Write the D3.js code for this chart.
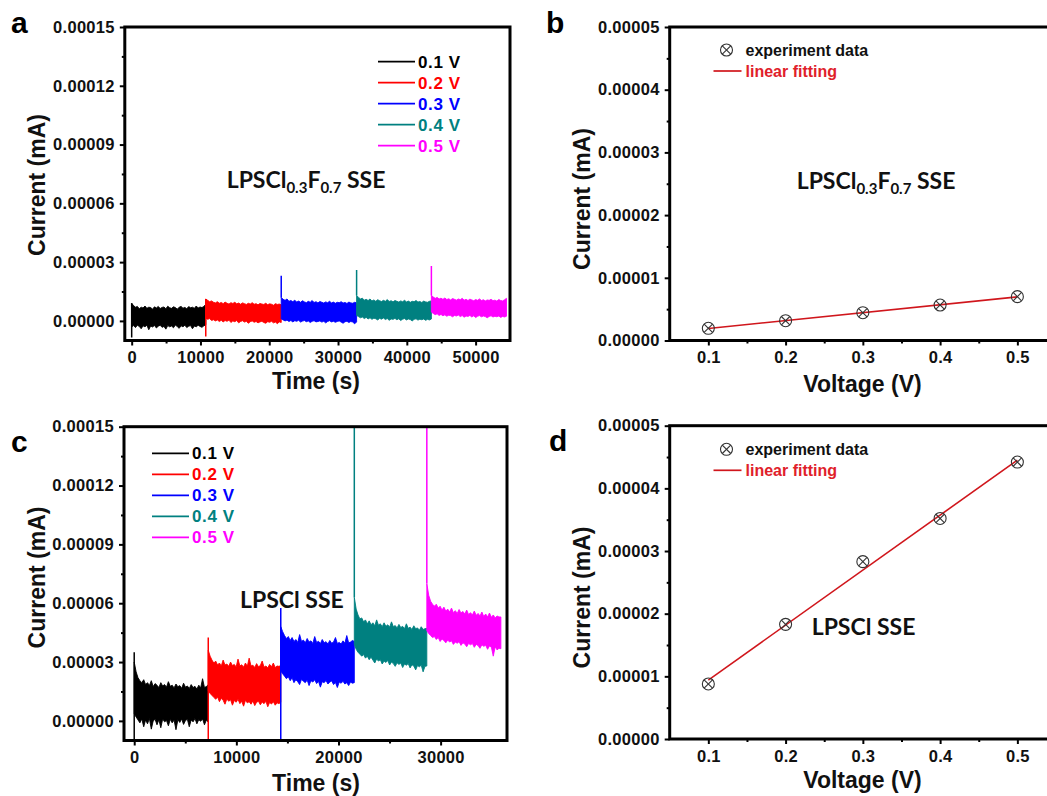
<!DOCTYPE html>
<html><head><meta charset="utf-8">
<script src="https://cdn.jsdelivr.net/npm/d3@7"></script>
<style>
body{margin:0;background:#fff;}
svg{display:block;}
.tick text{font-family:"Liberation Sans",Arial,sans-serif;font-weight:bold;font-size:16.5px;letter-spacing:0.3px;fill:#111;}
.tick line{stroke:#000;stroke-width:2px;}
.lbl{font-family:"Liberation Sans",Arial,sans-serif;font-weight:bold;}
.ann{font-family:Lato,"Open Sans",sans-serif;font-weight:700;white-space:pre;}
</style></head><body>
<svg id="chart" width="1047" height="796"></svg>
<script>
// ---------------- DATA ----------------
const voltages = ["0.1 V", "0.2 V", "0.3 V", "0.4 V", "0.5 V"];
const UNIT = 1e-5; // trace/point arrays below are in units of 1e-5 mA

// Panel a: LPSCl0.3F0.7 SSE, chronoamperometry (step start times, s)
const aStepTimes = [0, 10770, 21740, 32700, 43570, 54490];
const aSpikes = [[-0.85], [-0.8], [2.3], [2.6], [2.8]];
const aHi1 = [0.90,0.78,0.70,0.74,0.62,0.70,0.66,0.76,0.64,0.70,0.68,0.60,0.72,0.66,0.74,0.63,0.69,0.71,0.62,0.75,0.67,0.64,0.72,0.68,0.60,0.70,0.74,0.65,0.69,0.62,0.73,0.67,0.70,0.64,0.76,0.66,0.71,0.68,0.74,0.85];
const aLo1 = [-0.30,-0.24,-0.34,-0.22,-0.28,-0.40,-0.25,-0.30,-0.22,-0.45,-0.26,-0.31,-0.23,-0.36,-0.27,-0.22,-0.33,-0.28,-0.42,-0.24,-0.30,-0.26,-0.35,-0.21,-0.29,-0.38,-0.25,-0.30,-0.22,-0.34,-0.27,-0.24,-0.40,-0.26,-0.30,-0.22,-0.28,-0.33,-0.25,-0.20];
const aHi2 = [1.12,1.05,0.98,1.02,0.95,0.92,0.98,0.90,0.94,0.88,0.96,0.90,0.86,0.93,0.89,0.95,0.87,0.91,0.85,0.92,0.88,0.84,0.90,0.86,0.93,0.85,0.88,0.82,0.89,0.86,0.84,0.90,0.83,0.87,0.85,0.80,0.88,0.84,0.86,0.82];
const aLo2 = [0.15,0.08,0.12,0.02,0.06,0.00,0.05,-0.03,0.03,-0.05,0.02,-0.02,0.04,-0.08,0.00,-0.04,0.02,-0.10,-0.03,0.01,-0.06,-0.02,-0.12,-0.04,0.00,-0.07,-0.03,-0.10,-0.05,-0.02,-0.08,-0.12,-0.04,-0.07,-0.02,-0.10,-0.06,-0.14,-0.05,-0.08];
const aHi3 = [1.20,1.10,1.05,1.12,1.00,1.04,0.98,1.06,0.96,1.01,0.95,1.03,0.97,0.93,1.00,0.95,1.04,0.94,0.98,0.92,0.99,0.95,0.91,0.97,0.93,1.00,0.92,0.96,0.90,0.95,0.93,0.98,0.91,0.94,0.89,0.96,0.92,0.90,0.95,0.92];
const aLo3 = [0.10,0.05,0.00,0.04,-0.03,0.02,-0.05,0.01,-0.02,0.03,-0.06,-0.01,0.02,-0.04,0.00,-0.08,-0.02,0.01,-0.05,-0.03,0.00,-0.06,-0.02,-0.10,-0.03,0.01,-0.05,-0.02,-0.07,-0.03,0.00,-0.06,-0.12,-0.04,-0.02,-0.08,-0.03,-0.06,-0.15,-0.05];
const aHi4 = [1.30,1.20,1.12,1.16,1.06,1.10,1.04,1.12,1.02,1.07,1.00,1.08,1.03,0.99,1.05,1.00,1.09,0.99,1.03,0.97,1.04,1.00,0.96,1.02,0.98,1.05,0.97,1.01,0.95,1.00,0.98,1.04,0.96,0.99,0.94,1.01,0.97,0.95,1.00,1.02];
const aLo4 = [0.28,0.22,0.16,0.20,0.12,0.18,0.10,0.16,0.08,0.14,0.11,0.05,0.13,0.09,0.15,0.07,0.12,0.03,0.10,0.08,0.13,0.06,0.11,0.02,0.09,0.12,0.05,0.10,0.07,0.00,0.08,0.11,0.04,0.09,0.06,0.10,0.03,0.08,0.05,0.10];
const aHi5 = [1.30,1.22,1.15,1.20,1.12,1.16,1.10,1.17,1.09,1.13,1.07,1.14,1.10,1.06,1.12,1.08,1.15,1.06,1.10,1.04,1.11,1.07,1.03,1.09,1.05,1.12,1.04,1.08,1.02,1.07,1.05,1.10,1.03,1.06,1.01,1.09,1.04,1.02,1.08,1.15];
const aLo5 = [0.45,0.38,0.32,0.36,0.28,0.33,0.26,0.31,0.24,0.29,0.27,0.21,0.28,0.25,0.30,0.22,0.27,0.19,0.25,0.23,0.28,0.20,0.26,0.17,0.24,0.27,0.21,0.25,0.22,0.16,0.23,0.26,0.20,0.24,0.21,0.25,0.18,0.23,0.20,0.24];

// Panel c: LPSCl SSE
const cStepTimes = [0, 7250, 14350, 21550, 28650, 35900];
const cSpikes = [[-2, 3.5], [-2, 4.25], [-2, 5.75], [16], [16]];
const cHi1 = [3.0,2.5,2.2,2.05,1.95,2.1,1.85,1.95,1.80,2.05,1.75,1.90,1.82,1.70,1.95,1.78,1.85,1.72,2.00,1.76,1.82,1.68,1.88,1.74,1.80,1.66,1.92,1.72,1.78,1.65,1.85,1.70,1.76,1.62,1.82,1.68,2.15,1.70,1.75,1.85];
const cLo1 = [0.35,0.20,0.05,-0.10,0.10,-0.30,0.05,-0.15,0.12,-0.42,0.00,0.08,-0.20,0.06,-0.35,0.10,-0.05,0.02,-0.25,0.08,-0.10,0.04,-0.45,0.06,-0.08,0.10,-0.18,0.02,0.08,-0.30,0.05,-0.05,0.12,-0.15,0.06,-0.02,0.10,-0.20,0.04,-0.06];
const cHi2 = [3.6,3.3,3.1,2.95,3.05,2.85,2.95,2.80,3.10,2.85,2.90,2.78,3.00,2.82,2.88,2.75,3.15,2.80,2.86,2.74,2.95,2.78,3.20,2.80,2.84,2.72,2.92,2.76,2.82,3.05,2.74,2.80,2.70,2.88,2.76,2.95,2.72,2.80,2.78,2.82];
const cLo2 = [1.55,1.40,1.30,1.20,1.10,1.22,0.98,1.15,1.05,0.85,1.12,1.00,1.08,0.80,1.04,0.95,1.10,0.88,1.00,0.75,1.05,0.92,0.98,0.85,1.02,0.78,0.95,1.00,0.82,0.96,0.88,1.00,0.72,0.94,0.86,0.98,0.80,0.92,0.88,0.95];
const cHi3 = [4.8,4.55,4.35,4.20,4.30,4.10,4.25,4.05,4.15,4.00,4.40,4.05,4.12,3.98,4.20,4.02,4.08,3.95,4.30,4.00,4.06,3.94,4.15,3.98,4.04,3.92,4.10,3.96,4.02,4.25,3.95,4.00,3.92,4.08,3.96,4.35,3.98,4.02,4.10,4.05];
const cLo3 = [2.55,2.40,2.28,2.15,2.25,2.05,2.20,1.95,2.10,2.00,1.85,2.12,2.02,1.95,2.08,1.80,2.05,1.98,2.10,1.90,2.02,1.72,2.00,1.95,2.06,1.88,1.98,2.04,1.85,1.96,1.70,1.98,1.92,2.02,1.88,1.95,1.80,1.98,1.92,1.95];
const cHi4 = [6.3,5.7,5.4,5.2,5.25,5.05,5.15,4.95,5.10,4.90,5.00,4.85,5.15,4.88,4.95,4.80,5.00,4.82,4.90,4.78,5.05,4.80,4.86,4.74,4.92,4.76,4.82,4.70,4.95,4.72,4.78,4.66,4.85,4.70,4.74,4.62,4.80,4.66,4.70,4.72];
const cLo4 = [3.9,3.65,3.50,3.40,3.30,3.38,3.20,3.30,3.12,3.25,3.10,2.95,3.15,3.05,3.12,2.90,3.05,2.98,3.08,2.85,3.00,2.92,2.78,2.96,2.88,2.95,2.72,2.90,2.84,2.92,2.70,2.86,2.80,2.60,2.82,2.76,2.84,2.50,2.78,2.80];
const cHi5 = [7.0,6.4,6.1,5.95,5.85,5.95,5.75,5.85,5.65,5.80,5.60,5.70,5.55,5.75,5.52,5.62,5.48,5.68,5.50,5.58,5.45,5.65,5.42,5.52,5.40,5.60,5.38,5.48,5.35,5.55,5.32,5.45,5.30,5.50,5.28,5.40,5.25,5.35,5.30,5.30];
const cLo5 = [4.6,4.45,4.35,4.25,4.30,4.15,4.25,4.05,4.18,4.10,3.98,4.12,4.02,4.08,3.90,4.02,3.96,4.04,3.85,3.98,3.92,3.78,3.95,3.88,3.94,3.75,3.90,3.84,3.70,3.88,3.80,3.86,3.65,3.82,3.76,3.30,3.78,3.62,3.70,3.68];

// Panels b, d: steady current vs voltage (units 1e-5 mA)
const fitVoltages = [0.1, 0.2, 0.3, 0.4, 0.5];
const bCurrent = [0.195, 0.316, 0.443, 0.566, 0.699];
const dCurrent = [0.878, 1.83, 2.83, 3.52, 4.42];

// Tick labels
const timeYTicks = [0, 0.00003, 0.00006, 0.00009, 0.00012, 0.00015];
const aXTicks = [0, 10000, 20000, 30000, 40000, 50000];
const cXTicks = [0, 10000, 20000, 30000];
const ivXTicks = [0.1, 0.2, 0.3, 0.4, 0.5];
const ivYTicks = [0, 0.00001, 0.00002, 0.00003, 0.00004, 0.00005];

// ---------------- STYLE ----------------
const seriesColors = ["#000000", "#ff0000", "#0000ff", "#008080", "#ff00ff"];
const fitColor = "#d0161c";

const svg = d3.select("#chart");
svg.append("rect").attr("width", 1047).attr("height", 796).attr("fill", "#fff");

function makePanel(id, P, xDom, yDom) {
  const x = d3.scaleLinear().domain(xDom).range([P.left, P.right]);
  const y = d3.scaleLinear().domain(yDom).range([P.bottom, P.top]);
  svg.append("clipPath").attr("id", "clip-" + id).append("rect")
    .attr("x", P.left).attr("y", P.top).attr("width", P.right - P.left).attr("height", P.bottom - P.top);
  const g = svg.append("g");
  const plot = g.append("g").attr("clip-path", `url(#clip-${id})`);
  return {x, y, g, plot, P};
}
function mids(arr) { const m = []; for (let i = 0; i < arr.length - 1; i++) m.push((arr[i] + arr[i+1]) / 2); return m; }

function drawAxes(p, xMaj, xFmt, yMaj, yFmt) {
  const P = p.P;
  const xa = p.g.append("g").attr("transform", `translate(0,${P.bottom})`)
    .call(d3.axisBottom(p.x).tickValues(xMaj).tickSize(5).tickSizeOuter(0).tickPadding(6).tickFormat(xFmt));
  xa.select(".domain").remove();
  const xm = p.g.append("g").attr("transform", `translate(0,${P.bottom})`)
    .call(d3.axisBottom(p.x).tickValues(mids(xMaj)).tickSize(3).tickSizeOuter(0).tickFormat(""));
  xm.select(".domain").remove();
  const ya = p.g.append("g").attr("transform", `translate(${P.left},0)`)
    .call(d3.axisLeft(p.y).tickValues(yMaj).tickSize(5).tickSizeOuter(0).tickPadding(5).tickFormat(yFmt));
  ya.select(".domain").remove();
  const ym = p.g.append("g").attr("transform", `translate(${P.left},0)`)
    .call(d3.axisLeft(p.y).tickValues(mids(yMaj)).tickSize(3).tickSizeOuter(0).tickFormat(""));
  ym.select(".domain").remove();
  p.g.append("rect").attr("x", P.left).attr("y", P.top).attr("width", P.right - P.left).attr("height", P.bottom - P.top)
    .attr("fill", "none").attr("stroke", "#000").attr("stroke-width", 3);
}

function drawTraces(p, stepTimes, spikes, his, los) {
  his.forEach((hi, i) => {
    const t0 = stepTimes[i], t1 = stepTimes[i+1];
    const pts = hi.map((h, j) => ({t: t0 + (t1 - t0) * j / (hi.length - 1), hi: h * UNIT, lo: los[i][j] * UNIT}));
    const area = d3.area().x(d => p.x(d.t)).y0(d => p.y(d.lo)).y1(d => p.y(d.hi));
    p.plot.append("path").attr("d", area(pts)).attr("fill", seriesColors[i])
      .attr("stroke", seriesColors[i]).attr("stroke-width", 0.9).attr("stroke-linejoin", "miter");
    const sp = spikes[i].map(v => [t0, v * UNIT]).concat([[t0, hi[0] * UNIT]]);
    p.plot.append("path").attr("d", d3.line().x(d => p.x(d[0])).y(d => p.y(d[1]))(sp))
      .attr("fill", "none").attr("stroke", seriesColors[i]).attr("stroke-width", 1.5);
  });
}

function vLegend(x0, y0) {
  voltages.forEach((v, i) => {
    const yy = y0 + i * 21;
    svg.append("line").attr("x1", x0).attr("x2", x0 + 37).attr("y1", yy).attr("y2", yy)
      .attr("stroke", seriesColors[i]).attr("stroke-width", 1.7);
    svg.append("text").attr("class", "lbl").attr("x", x0 + 40).attr("y", yy + 6)
      .attr("font-size", 17).attr("letter-spacing", 0.6).attr("fill", seriesColors[i]).text(v);
  });
}

function marker(sel, cx, cy) {
  const r = 6, k = r * 0.7;
  const g = sel.append("g").attr("transform", `translate(${cx},${cy})`)
    .attr("stroke", "#333").attr("stroke-width", 1.1).attr("fill", "none");
  g.append("circle").attr("r", r);
  g.append("line").attr("x1", -k).attr("y1", -k).attr("x2", k).attr("y2", k);
  g.append("line").attr("x1", -k).attr("y1", k).attr("x2", k).attr("y2", -k);
}

function drawIV(p, currents) {
  const ys = currents.map(c => c * UNIT);
  const mx = d3.mean(fitVoltages), my = d3.mean(ys);
  const slope = d3.sum(fitVoltages.map((v, i) => (v - mx) * (ys[i] - my))) / d3.sum(fitVoltages.map(v => (v - mx) ** 2));
  const icpt = my - slope * mx;
  const ends = [fitVoltages[0], fitVoltages[fitVoltages.length - 1]];
  p.plot.append("path").attr("d", d3.line().x(d => p.x(d)).y(d => p.y(icpt + slope * d))(ends))
    .attr("fill", "none").attr("stroke", fitColor).attr("stroke-width", 1.6);
  fitVoltages.forEach((v, i) => marker(p.plot, p.x(v), p.y(ys[i])));
}

function ivLegend(x0, y0) {
  marker(svg, x0 + 13, y0);
  svg.append("text").attr("class", "lbl").attr("x", x0 + 32).attr("y", y0 + 5.5).attr("font-size", 16)
    .attr("fill", "#111").text("experiment data");
  svg.append("line").attr("x1", x0).attr("x2", x0 + 28).attr("y1", y0 + 21).attr("y2", y0 + 21)
    .attr("stroke", fitColor).attr("stroke-width", 1.7);
  svg.append("text").attr("class", "lbl").attr("x", x0 + 32).attr("y", y0 + 26.5).attr("font-size", 16)
    .attr("fill", "#e0202a").text("linear fitting");
}

function annotF(x, y) {
  const t = svg.append("text").attr("class", "ann").attr("x", x).attr("y", y).attr("font-size", 23).attr("fill", "#111");
  t.append("tspan").text("LPSCl");
  t.append("tspan").attr("font-size", 15).attr("dy", 5).text("0.3");
  t.append("tspan").attr("dy", -5).text("F");
  t.append("tspan").attr("font-size", 15).attr("dy", 5).text("0.7");
  t.append("tspan").attr("dy", -5).text(" SSE");
}
function annot(x, y) {
  svg.append("text").attr("class", "ann").attr("x", x).attr("y", y).attr("font-size", 23).attr("fill", "#111").text("LPSCl SSE");
}
function yTitle(x, y, txt) {
  svg.append("text").attr("class", "lbl").attr("font-size", 23).attr("text-anchor", "middle")
    .attr("transform", `translate(${x},${y}) rotate(-90)`).attr("fill", "#111").text(txt);
}
function xTitle(x, y, txt) {
  svg.append("text").attr("class", "lbl").attr("font-size", 23).attr("text-anchor", "middle")
    .attr("x", x).attr("y", y).attr("fill", "#111").text(txt);
}
function letter(x, y, txt) {
  svg.append("text").attr("class", "lbl").attr("font-size", 30).attr("x", x).attr("y", y).attr("fill", "#000").text(txt);
}

const fmtY = d3.format(".5f"), fmtT = d3.format("d"), fmtV = d3.format(".1f");

// Panel a
const pa = makePanel("a", {left: 124.8, right: 510, top: 27, bottom: 340.5}, [-1000, 55000], [-0.00001, 0.00015]);
drawTraces(pa, aStepTimes, aSpikes, [aHi1, aHi2, aHi3, aHi4, aHi5], [aLo1, aLo2, aLo3, aLo4, aLo5]);
drawAxes(pa, aXTicks, fmtT, timeYTicks, fmtY);
vLegend(378, 61.7);
annotF(226.7, 188);
yTitle(45, 185, "Current (mA)");
xTitle(316, 389, "Time (s)");
letter(11, 33, "a");

// Panel c
const pc = makePanel("c", {left: 124, right: 507, top: 426.7, bottom: 740.5}, [-1000, 36500], [-0.00001, 0.00015]);
drawTraces(pc, cStepTimes, cSpikes, [cHi1, cHi2, cHi3, cHi4, cHi5], [cLo1, cLo2, cLo3, cLo4, cLo5]);
drawAxes(pc, cXTicks, fmtT, timeYTicks, fmtY);
vLegend(152, 453.3);
annot(240, 608);
yTitle(45, 577.5, "Current (mA)");
xTitle(316, 791, "Time (s)");
letter(11, 452, "c");

// Panel b
const pb = makePanel("b", {left: 669.7, right: 1056, top: 27, bottom: 340.5}, [0.05, 0.55], [0, 0.00005]);
drawIV(pb, bCurrent);
drawAxes(pb, ivXTicks, fmtV, ivYTicks, fmtY);
ivLegend(713.5, 50);
annotF(796.7, 189);
yTitle(590, 199, "Current (mA)");
xTitle(862.5, 392, "Voltage (V)");
letter(546, 33, "b");

// Panel d
const pd = makePanel("d", {left: 669.7, right: 1056, top: 425.7, bottom: 739}, [0.05, 0.55], [0, 0.00005]);
drawIV(pd, dCurrent);
drawAxes(pd, ivXTicks, fmtV, ivYTicks, fmtY);
ivLegend(713.5, 449.3);
annot(811.7, 635);
yTitle(590, 597.5, "Current (mA)");
xTitle(862.5, 788, "Voltage (V)");
letter(549, 451, "d");
</script>
</body></html>
